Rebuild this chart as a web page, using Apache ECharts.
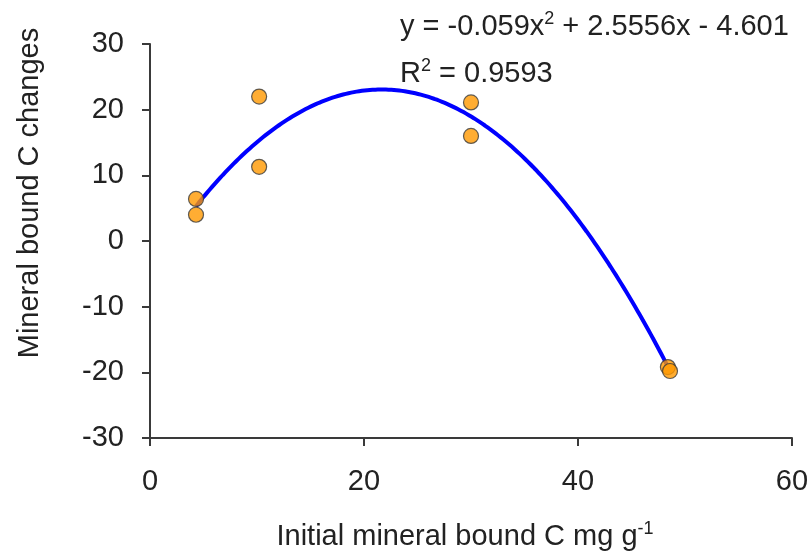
<!DOCTYPE html>
<html>
<head>
<meta charset="utf-8">
<script src="https://cdn.jsdelivr.net/npm/echarts@6/dist/echarts.min.js"></script>
<style>
  html, body { margin: 0; padding: 0; background: #fff; }
  #main { width: 810px; height: 559px; }
</style>
</head>
<body>
<div id="main"></div>
<script>
var FONT = '"Liberation Sans", Arial, sans-serif';

// observed points: initial mineral bound C vs its change
var initialC = [4.3, 4.3, 10.2, 10.2, 30.0, 30.0, 48.4, 48.6];
var changeC = [6.4, 4.0, 22.0, 11.3, 21.1, 16.0, -19.2, -19.8];

// polynomial trendline y = a x^2 + b x + c, as printed on the chart
var trendCoef = [-0.059, 2.5556, -4.601];
var trendRange = [4.3, 48.5];
var rSquared = '0.9593';

var xTicks = [0, 20, 40, 60];
var yTicks = [-30, -20, -10, 0, 10, 20, 30];

var points = initialC.map(function (x, i) { return [x, changeC[i]]; });

var trend = [];
for (var x = trendRange[0]; x <= trendRange[1] + 1e-9; x += 0.25) {
  trend.push([x, trendCoef[0] * x * x + trendCoef[1] * x + trendCoef[2]]);
}

var chart = echarts.init(document.getElementById('main'));

var axisCommon = {
  axisLine: { show: true, onZero: false, lineStyle: { color: '#3a3a3a', width: 2 } },
  axisTick: { show: true, inside: false, length: 8, lineStyle: { color: '#3a3a3a', width: 2 } },
  splitLine: { show: false },
  axisLabel: { color: '#222', fontFamily: FONT, fontSize: 29 }
};

var supRich = {
  a: { fontFamily: FONT, fontSize: 29, fill: '#222', color: '#222' },
  s: { fontFamily: FONT, fontSize: 18, fill: '#222', color: '#222', padding: [0, 0, 15, 0] }
};

chart.setOption({
  animation: false,
  backgroundColor: '#fff',
  grid: { left: 150, right: 18, top: 44, bottom: 121, containLabel: false, outerBoundsMode: 'none' },
  xAxis: Object.assign({}, axisCommon, {
    type: 'value',
    min: xTicks[0],
    max: xTicks[xTicks.length - 1],
    interval: 20,
    axisLabel: Object.assign({}, axisCommon.axisLabel, { margin: 29 }),
    name: '{a|Initial mineral bound C mg g}{s|-1}',
    nameLocation: 'middle',
    nameGap: 82,
    nameTextStyle: {
      padding: [0, 12, 0, 0],
      rich: supRich
    }
  }),
  yAxis: Object.assign({}, axisCommon, {
    type: 'value',
    min: yTicks[0],
    max: yTicks[yTicks.length - 1],
    interval: 10,
    axisLabel: Object.assign({}, axisCommon.axisLabel, { margin: 26 }),
    name: 'Mineral bound C changes',
    nameLocation: 'middle',
    nameGap: 106,
    nameTextStyle: {
      fontFamily: FONT,
      fontSize: 29,
      color: '#222',
      padding: [0, 0, 0, 96]
    }
  }),
  graphic: [
    {
      type: 'text',
      left: 400,
      top: 10,
      style: {
        text: '{a|y = -0.059x}{s|2}{a| + 2.5556x - 4.601}',
        rich: supRich
      }
    },
    {
      type: 'text',
      left: 400,
      top: 57,
      style: {
        text: '{a|R}{s|2}{a| = ' + rSquared + '}',
        rich: supRich
      }
    }
  ],
  series: [
    {
      type: 'line',
      data: trend,
      showSymbol: false,
      smooth: false,
      lineStyle: { color: '#0000ff', width: 4 },
      z: 2
    },
    {
      type: 'scatter',
      data: points,
      symbol: 'circle',
      symbolSize: 15,
      itemStyle: { color: '#ff9900', borderColor: '#3a3a3a', borderWidth: 1.2 },
      z: 3
    }
  ]
});
</script>
</body>
</html>
